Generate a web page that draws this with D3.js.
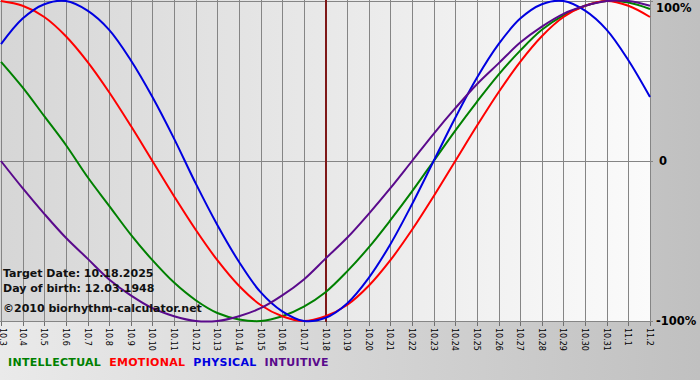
<!DOCTYPE html>
<html>
<head>
<meta charset="utf-8">
<script src="https://cdn.jsdelivr.net/npm/d3@7"></script>
<style>
  html, body { margin: 0; padding: 0; overflow: hidden; }
  svg { display: block; }
</style>
</head>
<body>
<svg id="chart" width="700" height="380"></svg>
<script>
// days shown (month.day)
var days = ["10.3","10.4","10.5","10.6","10.7","10.8","10.9","10.10","10.11","10.12",
  "10.13","10.14","10.15","10.16","10.17","10.18","10.19","10.20","10.21","10.22",
  "10.23","10.24","10.25","10.26","10.27","10.28","10.29","10.30","10.31","11.1","11.2"];

// cycle values, -1 .. 1, one per day
var intellectual = [0.62,0.46,0.28,0.10,-0.10,-0.28,-0.46,-0.62,-0.76,-0.87,-0.95,-0.99,-1.00,-0.97,-0.91,
  -0.82,-0.69,-0.54,-0.37,-0.19,0.00,0.19,0.37,0.54,0.69,0.82,0.91,0.97,1.00,0.99,0.95];
var emotional = [1.00,0.97,0.90,0.78,0.62,0.43,0.22,0.00,-0.22,-0.43,-0.62,-0.78,-0.90,-0.97,-1.00,
  -0.97,-0.90,-0.78,-0.62,-0.43,-0.22,0.00,0.22,0.43,0.62,0.78,0.90,0.97,1.00,0.97,0.90];
var physical = [0.73,0.89,0.98,1.00,0.94,0.82,0.63,0.40,0.14,-0.14,-0.40,-0.63,-0.82,-0.94,-1.00,
  -0.98,-0.89,-0.73,-0.52,-0.27,0.00,0.27,0.52,0.73,0.89,0.98,1.00,0.94,0.82,0.63,0.40];
var intuitive = [0.00,-0.17,-0.33,-0.48,-0.61,-0.74,-0.84,-0.92,-0.97,-1.00,-1.00,-0.97,-0.92,-0.84,-0.74,
  -0.61,-0.48,-0.33,-0.17,0.00,0.17,0.33,0.48,0.61,0.74,0.84,0.92,0.97,1.00,1.00,0.97];

var seriesNames = ["INTELLECTUAL","EMOTIONAL","PHYSICAL","INTUITIVE"];
var seriesColors = ["#008000","#ff0000","#0000e0","#5a0a8c"];
var yTicks = [1, 0, -1];
var yTickLabels = ["100%", "0", "-100%"];
var targetDay = "10.18";
var infoLines = ["Target Date: 10.18.2025", "Day of birth: 12.03.1948", "\u00a92010 biorhythm-calculator.net"];

var W = 700, H = 380;
var plot = {left: 1, right: 650, top: 1, bottom: 321};

var svg = d3.select("#chart");
var defs = svg.append("defs");

// outer + plot backgrounds (horizontal gradients)
var g1 = defs.append("linearGradient").attr("id","bgOuter").attr("x1","0").attr("x2","1").attr("y1","0").attr("y2","0");
g1.append("stop").attr("offset","0").attr("stop-color","#eaeaea");
g1.append("stop").attr("offset","1").attr("stop-color","#c0c0c0");
var g2 = defs.append("linearGradient").attr("id","bgPlot").attr("x1","0").attr("x2","1").attr("y1","0").attr("y2","0");
g2.append("stop").attr("offset","0").attr("stop-color","#d6d6d6");
g2.append("stop").attr("offset","1").attr("stop-color","#fbfbfb");

svg.append("rect").attr("width", W).attr("height", H).attr("fill","url(#bgOuter)");
svg.append("rect").attr("x", 0).attr("y", 0)
  .attr("width", plot.right).attr("height", plot.bottom + 1)
  .attr("fill","url(#bgPlot)");

var x = d3.scalePoint().domain(days).range([plot.left, plot.right]);
var y = d3.scaleLinear().domain([-1, 1]).range([plot.bottom, plot.top]);

// vertical day grid
svg.append("g").selectAll("line").data(days).join("line")
  .attr("x1", d => Math.round(x(d)) + 0.5).attr("x2", d => Math.round(x(d)) + 0.5)
  .attr("y1", 0).attr("y2", plot.bottom + 1)
  .attr("stroke", "#858585").attr("stroke-width", 1);

// horizontal lines: top, zero, bottom
svg.append("g").selectAll("line").data(yTicks).join("line")
  .attr("x1", 0).attr("x2", plot.right + 3)
  .attr("y1", d => Math.round(y(d)) + 0.5).attr("y2", d => Math.round(y(d)) + 0.5)
  .attr("stroke", "#858585").attr("stroke-width", 1);

// bottom axis (ticks + rotated labels)
var xAxis = svg.append("g").attr("transform", "translate(0," + (plot.bottom + 1) + ")");
xAxis.selectAll("line").data(days).join("line")
  .attr("x1", d => Math.round(x(d)) + 0.5).attr("x2", d => Math.round(x(d)) + 0.5)
  .attr("y1", 0).attr("y2", 4)
  .attr("stroke", "#707070");
xAxis.selectAll("text").data(days).join("text")
  .attr("transform", d => "translate(" + (Math.max(0, Math.round(x(d)) - 3)) + ",6) rotate(90)")
  .attr("font-family", "DejaVu Sans, Verdana, sans-serif")
  .attr("font-size", 8)
  .attr("fill", "#000")
  .text(d => d);

// right axis labels
svg.append("g").selectAll("text").data(yTicks).join("text")
  .attr("x", (d, i) => i === 1 ? 659 : 656)
  .attr("y", d => Math.max(8, y(d)) + 4)
  .attr("font-family", "DejaVu Sans, Verdana, sans-serif")
  .attr("font-weight", "bold")
  .attr("font-size", 11.5)
  .attr("fill", "#000")
  .text((d, i) => yTickLabels[i]);

// target date marker
svg.append("line")
  .attr("x1", x(targetDay) + 0.5).attr("x2", x(targetDay) + 0.5)
  .attr("y1", 0).attr("y2", plot.bottom + 1)
  .attr("stroke", "#7e1818").attr("stroke-width", 2);

// curves
var line = d3.line()
  .x((d, i) => x(days[i]))
  .y(d => y(d))
  .curve(d3.curveCatmullRom);

var allSeries = [intellectual, emotional, physical, intuitive];
svg.append("g").selectAll("path").data(allSeries).join("path")
  .attr("d", d => line(d))
  .attr("fill", "none")
  .attr("stroke", (d, i) => seriesColors[i])
  .attr("stroke-width", 2);

// info text
svg.append("g").selectAll("text").data(infoLines).join("text")
  .attr("x", 3)
  .attr("y", (d, i) => [277, 292, 312][i])
  .attr("font-family", "DejaVu Sans, Verdana, sans-serif")
  .attr("font-weight", "bold")
  .attr("font-size", 11)
  .attr("fill", "#111")
  .text(d => d);

// legend
var legend = svg.append("g");
var lx = 8;
seriesNames.forEach(function(name, i){
  var t = legend.append("text")
    .attr("x", lx).attr("y", 366)
    .attr("font-family", "DejaVu Sans, Verdana, sans-serif")
    .attr("font-weight", "bold")
    .attr("font-size", 11)
    .attr("letter-spacing", 0.3)
    .attr("fill", seriesColors[i])
    .text(name);
  lx += t.node().getComputedTextLength() + 8;
});
</script>
</body>
</html>
